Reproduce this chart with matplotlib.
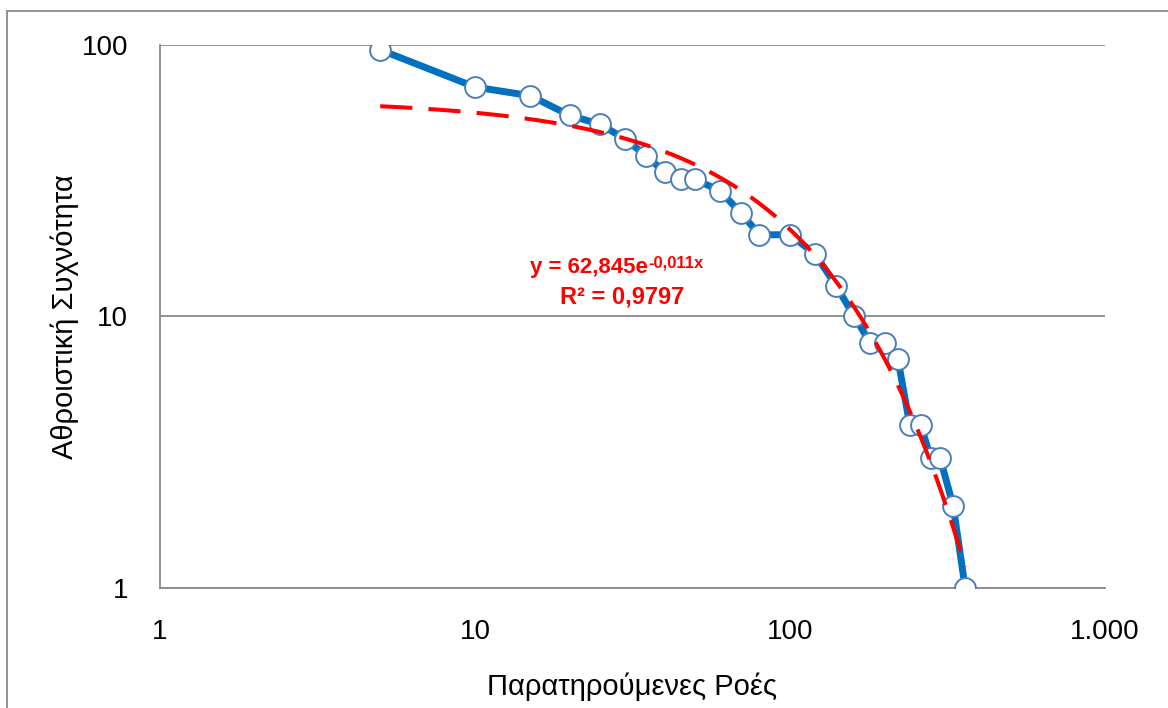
import matplotlib
matplotlib.use("Agg")
import matplotlib.pyplot as plt
import numpy as np
from matplotlib.lines import Line2D

plt.rcParams['font.family'] = ['Liberation Sans', 'DejaVu Sans']

# παρατηρούμενες ροές και αθροιστική συχνότητα
flows = [5, 10, 15, 20, 25, 30, 35, 40, 45, 50, 60, 70, 80, 100, 120, 140,
         160, 180, 200, 220, 240, 260, 280, 300, 330, 360]
cum_freq = [96, 70, 65, 55, 51, 45, 39, 34, 32, 32, 29, 24, 20, 20, 17, 13,
            10, 8, 8, 7, 4, 4, 3, 3, 2, 1]

# εκθετική γραμμή τάσης (Excel)
trend_a = 62.845
trend_b = -0.011
trend_r2 = 0.9797

fig = plt.figure(figsize=(11.68, 7.08), dpi=100)
ax = fig.add_axes([0.137, 0.1695, 0.809, 0.767])

ax.plot(flows, cum_freq, color='#0070C0', lw=5, zorder=3,
        marker='o', markersize=15, markerfacecolor='white',
        markeredgecolor='#4A7EBB', markeredgewidth=1.4)

xt = np.linspace(min(flows), max(flows), 400)
ax.plot(xt, trend_a * np.exp(trend_b * xt), color='#FF0000', lw=2.9,
        dashes=(8, 4), zorder=4)

ax.set_xscale('log')
ax.set_yscale('log')
ax.set_xlim(1, 1000)
ax.set_ylim(1, 100)
ax.set_xticks([1, 10, 100, 1000])
ax.set_xticklabels(['1', '10', '100', '1.000'])
ax.set_yticks([1, 10, 100])
ax.set_yticklabels(['1', '10', '100'])
ax.minorticks_off()
ax.tick_params(length=0, labelsize=20)
ax.tick_params(axis='x', pad=22)
ax.tick_params(axis='y', pad=23)
ax.yaxis.grid(True, color='#898989', lw=1.3)
ax.set_axisbelow(True)
for s in ['top', 'right']:
    ax.spines[s].set_visible(False)
for s in ['left', 'bottom']:
    ax.spines[s].set_color('#898989')
    ax.spines[s].set_linewidth(1.3)
ax.spines['left'].set_zorder(1)

ax.set_xlabel('Παρατηρούμενες Ροές', fontsize=21, labelpad=20)
ax.set_ylabel('Αθροιστική Συχνότητα', fontsize=21, labelpad=2)

# ετικέτα εξίσωσης
eq_x = 648 / 1168
fig.text(eq_x, 0.6144, 'y = 62,845e', color='#FF0000', fontsize=16,
         fontweight='bold', ha='right', va='baseline')
fig.text(eq_x, 0.6225, '-0,011x', color='#FF0000', fontsize=12,
         fontweight='bold', ha='left', va='baseline')
fig.text(622 / 1168, 0.572, 'R² = ' + str(trend_r2).replace('.', ','),
         color='#FF0000', fontsize=17, fontweight='bold', ha='center',
         va='baseline')

# περίγραμμα (αριστερά και πάνω)
fig.add_artist(Line2D([7 / 1168, 7 / 1168], [0, 1 - 11 / 708],
                      transform=fig.transFigure, color='#898989', lw=1.3))
fig.add_artist(Line2D([7 / 1168, 1], [1 - 11 / 708, 1 - 11 / 708],
                      transform=fig.transFigure, color='#898989', lw=1.3))

fig.savefig('out.png', dpi=100)
